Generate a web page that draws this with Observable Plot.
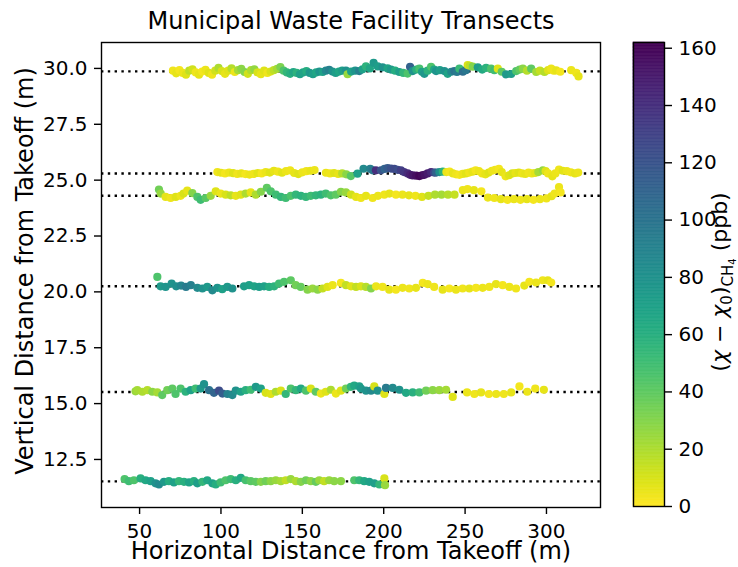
<!DOCTYPE html>
<html>
<head>
<meta charset="utf-8">
<script src="https://cdn.jsdelivr.net/npm/d3@7"></script>
<script src="https://cdn.jsdelivr.net/npm/@observablehq/plot@0.6"></script>
<style>
  html, body { margin: 0; padding: 0; background: white; }
  #chart { display: flex; flex-direction: row; width: 738px; height: 567px; }
  #chart svg { display: block; flex: none; }
</style>
</head>
<body>
<div id="chart"></div>
<script>
// Transect samples: [horizontal distance (m), vertical distance (m), CH4 enhancement (ppb)]
const t30 = [
  [70.5,29.9,4],[72.5,29.78,6],[74.5,29.92,3],[76.5,29.8,5],[78.5,29.72,8],[80.5,29.9,16],[82.5,29.96,12],
  [84.5,29.82,4],[86.5,29.72,6],[88.5,29.86,3],[90.5,29.94,5],[92.5,29.8,8],[94.5,29.72,4],[96.5,29.9,12],
  [98.5,30.02,20],[100.5,29.88,10],[102.5,29.76,6],[104.5,29.9,8],[106.5,30.0,18],[108.5,29.84,5],
  [110.5,29.92,22],[112.5,29.98,28],[114.5,29.84,30],[116.5,29.76,12],[118.5,29.92,20],[120.5,29.96,26],
  [122.5,29.82,10],[124.5,29.74,6],[126.5,29.9,8],[128.5,29.8,4],[130.5,29.86,10],[132.5,29.92,16],
  [134.5,29.98,22],[136.5,30.06,32],[138.5,29.9,45],[140.5,29.82,55],[142.5,29.76,60],[144.5,29.84,66],
  [146.5,29.8,58],[148.5,29.74,70],[150.5,29.82,68],[152.5,29.88,62],[154.5,29.8,76],[156.5,29.74,72],
  [158.5,29.82,66],[160.5,29.86,78],[162.5,29.84,70],[164.5,29.9,86],[166.5,29.94,92],[168.5,29.86,80],
  [170.5,29.8,72],[172.5,29.86,66],[174.5,29.9,72],[176.8,29.9,80],[177.8,29.74,25],[180,29.86,70],
  [182.5,29.9,78],[185,29.88,92],[187,29.96,70],[189.1,30.09,58],[191.5,30.0,66],[193.8,30.25,75],
  [196.3,30.09,72],[199.3,30.05,80],[202.4,30.0,68],[204.5,29.95,75],[207,29.9,62],[209.6,29.84,72],
  [212,29.8,55],[214.7,29.77,45],[216.2,30.07,112],[217.8,29.88,80],[220,29.95,60],[221.9,29.99,48],
  [223.5,29.85,70],[225,29.76,76],[227,29.9,58],[229.1,30.07,45],[231,29.95,66],[232.2,29.88,78],
  [234.5,29.92,72],[237.3,29.88,80],[239.3,29.76,68],[241.5,29.85,85],[243.4,29.88,100],[245,29.84,96],
  [246.5,29.99,52],[248.6,29.85,104],[250.5,29.92,98],[251.6,30.15,10],[253,30.12,16],[254.7,30.08,30],
  [257.8,30.05,72],[260.5,29.95,64],[262.9,30.02,58],[266,29.99,45],[268,29.92,50],[270.1,29.99,8],
  [272.5,29.85,40],[275.2,29.73,75],[278.3,29.75,72],[281.4,29.88,45],[283.5,29.95,38],[285.5,29.99,28],
  [288,29.9,18],[290.6,29.99,40],[293.7,29.84,22],[296,29.9,14],[298.8,29.84,18],[301,29.92,8],
  [302.9,29.99,5],[304.5,29.9,4],[306,29.91,6],[308.5,29.85,3],[315.2,29.92,5],[318.3,29.8,4],[319.7,29.64,6]
];

const t25 = [
  [97.8,25.36,4],[100,25.33,6],[102.5,25.3,3],[105,25.34,5],[107.5,25.31,8],[110,25.28,4],[112.5,25.3,6],
  [115,25.27,3],[117.5,25.25,5],[120,25.28,4],[122.5,25.32,7],[125,25.3,3],[127.5,25.36,5],[130,25.34,8],
  [132.5,25.42,6],[135,25.38,4],[137.5,25.33,7],[140,25.4,5],[142.5,25.44,4],[145,25.32,6],[147.5,25.27,8],
  [150,25.35,5],[152.5,25.4,4],[155,25.42,6],[157.5,25.45,5],
  [164.5,25.33,5],[167,25.3,4],[169.5,25.32,8],[172,25.28,6],[174.5,25.3,18],[177,25.26,28],[179.8,25.18,42],
  [183.9,25.29,70],[187.6,25.51,85],[191.7,25.51,92],[193.2,25.44,98],[195.2,25.44,140],[198.3,25.44,120],
  [200.5,25.5,110],[202.4,25.54,116],[204.5,25.52,122],[206.5,25.5,126],[208.5,25.46,124],[210.6,25.44,132],
  [212.5,25.36,136],[214.7,25.3,142],[216.2,25.24,148],[217.8,25.21,152],[220,25.2,156],[221.9,25.18,160],
  [223.5,25.22,158],[225,25.24,154],[227,25.3,150],[229.1,25.36,144],[231,25.34,126],[232.2,25.34,112],
  [234.2,25.36,82],[236.3,25.38,58],
  [238.5,25.36,5],[240.5,25.38,3],[242.5,25.3,6],[244.5,25.26,4],[246.5,25.24,3],[248.5,25.28,5],
  [250.5,25.3,7],[252.5,25.34,4],[254.5,25.38,6],[256.5,25.44,3],[258.5,25.4,5],[260.5,25.3,4],
  [262.5,25.26,6],[264.5,25.34,8],[266.5,25.42,5],[268.5,25.46,4],[270.8,25.51,3],[272.5,25.36,6],
  [274.9,25.17,5],[277,25.22,8],[279,25.3,10],[281,25.32,6],[283,25.34,8],[285,25.3,5],[287,25.28,6],
  [289,25.34,4],[291,25.3,5],[293,25.32,7],[295,25.36,22],[297.8,25.44,26],[299.5,25.4,8],[301,25.3,4],
  [303.6,25.17,6],[305.5,25.3,5],[307.7,25.47,4],[310,25.42,7],[312.5,25.4,5],[315,25.35,4],
  [317.5,25.3,6],[319.5,25.34,5]
];

const t24 = [
  [61.9,24.58,35],[63,24.4,25],[66,24.25,6],[69.1,24.2,4],[72.2,24.25,8],[75.2,24.3,5],[77,24.4,10],
  [79.3,24.53,6],[82.4,24.42,30],[85.5,24.25,45],[87.5,24.12,50],[90.6,24.2,42],[93.7,24.3,25],[96.8,24.5,8],
  [99.8,24.4,5],[102.9,24.35,10],[106,24.32,16],[109.1,24.3,6],[112.2,24.35,8],[115.2,24.4,20],[118.3,24.45,6],
  [121.4,24.35,20],[124.5,24.48,30],[128.2,24.66,40],[130.6,24.5,45],[133.7,24.35,50],[136.8,24.25,55],
  [139.8,24.2,50],[142.9,24.3,45],[146,24.35,55],[149.1,24.3,58],[152.2,24.25,55],[155.2,24.3,50],
  [158.3,24.32,55],[161.4,24.35,58],[164.4,24.4,50],[167.5,24.32,45],[170.6,24.35,40],[173.7,24.48,30],
  [176.8,24.45,25],[179.9,24.35,12],[183,24.25,6],[186,24.2,4],[189.1,24.3,6],[193.2,24.2,4],
  [196.5,24.3,5],[200.4,24.35,4],[203.5,24.4,6],[207.5,24.35,3],[211.5,24.35,5],[215.5,24.32,6],
  [219.5,24.3,4],[223.5,24.25,8],[227.5,24.3,14],[231.5,24.35,20],[235.5,24.35,22],[239.5,24.35,18],
  [243.5,24.35,14],[248.6,24.55,5],[251.5,24.6,4],[255.4,24.55,6],[260,24.5,3],[264,24.22,5],[268,24.2,4],
  [272,24.15,6],[276,24.12,3],[280,24.15,5],[284,24.12,4],[288,24.15,6],[292,24.12,3],[296,24.15,5],
  [300,24.18,4],[303.1,24.28,6],[305,24.4,4],[307.7,24.69,5],[308.7,24.45,3]
];

const t20 = [
  [60.9,20.67,45],[62.9,20.25,75],[66,20.22,78],[69.7,20.37,80],[72.5,20.25,82],[75.5,20.28,88],
  [78.5,20.22,95],[81.5,20.3,92],[85.5,20.18,85],[88.6,20.15,80],[91.6,20.22,75],[94.7,20.07,85],
  [97.8,20.18,78],[100.8,20.12,70],[103.9,20.22,75],[107,20.15,80],
  [114.2,20.25,72],[117.3,20.3,70],[120.4,20.25,68],[123.5,20.22,72],[126.5,20.25,70],[129.6,20.22,62],
  [132.7,20.25,58],[135.7,20.37,50],[138.8,20.45,45],[142.9,20.52,40],[145.9,20.3,35],[149,20.22,38],
  [153.2,20.1,30],[156.3,20.15,25],[159.4,20.1,28],[162.4,20.15,15],[165.5,20.22,8],[168.6,20.3,5],
  [173.7,20.4,3],[176.8,20.3,15],[179.9,20.25,8],[183,20.22,15],[186,20.25,10],[189.1,20.22,18],
  [192.2,20.15,30],[195.3,20.25,5],[199.3,20.22,4],[203.4,20.1,6],[207.5,20.1,3],[211.6,20.18,5],
  [215.7,20.15,4],[219.8,20.18,6],[224,20.4,3],[227,20.35,5],[231,20.22,4],[236.2,20.1,6],[240.3,20.15,3],
  [244.4,20.1,5],[248.5,20.15,4],[252.6,20.15,6],[256.7,20.18,3],[260.8,20.18,5],[264.9,20.22,4],
  [269,20.35,6],[273.1,20.3,3],[277.2,20.22,5],[281.3,20.15,4],[286.4,20.28,6],[289.5,20.45,3],
  [293.6,20.42,5],[297.7,20.52,4],[300.8,20.52,6],[302.9,20.42,3]
];

const t15 = [
  [47.5,15.55,25],[48.6,15.6,22],[51.7,15.53,20],[54.8,15.6,18],[57.8,15.53,28],[60.9,15.5,22],
  [63.9,15.38,40],[67,15.6,35],[70.1,15.67,40],[72.1,15.43,45],[75.2,15.67,45],[78.3,15.53,58],
  [81.4,15.6,70],[84.4,15.67,50],[87.5,15.67,75],[89.6,15.87,80],[92.7,15.6,100],[95.7,15.48,110],
  [98.8,15.58,125],[100.9,15.45,115],[104,15.43,90],[107,15.38,85],[109.1,15.58,80],[112.2,15.53,70],
  [115.2,15.6,60],[118.3,15.62,50],[121.4,15.75,75],[124.5,15.67,70],[127.5,15.48,10],[130.6,15.43,8],
  [133.7,15.53,20],[136.8,15.58,10],[139.8,15.43,55],[142.9,15.67,45],[146,15.6,55],[149.1,15.67,65],
  [152.2,15.58,45],[155.2,15.67,10],[158.3,15.53,40],[161.4,15.45,5],[164.4,15.53,8],[167.5,15.62,20],
  [170.6,15.45,5],[173.7,15.58,8],[176.8,15.67,35],[179.8,15.75,55],[181.9,15.8,65],[185,15.77,70],
  [186,15.67,75],[189.1,15.58,80],[192.2,15.58,85],[194.2,15.77,10],[196.3,15.58,80],[200.4,15.43,8],
  [201.4,15.7,95],[205.5,15.7,85],[209.6,15.62,80],[213.7,15.48,65],[217.8,15.5,60],[221.9,15.5,50],
  [226,15.58,35],[230.1,15.6,28],[234.2,15.6,25],[238.3,15.62,22],[242.4,15.3,8],[251.2,15.5,5],
  [255.7,15.43,4],[259.8,15.5,6],[264.6,15.43,3],[269.1,15.43,5],[273.8,15.43,4],[278.3,15.5,6],
  [283.4,15.77,3],[288.2,15.53,5],[293.1,15.67,4],[298.4,15.62,6]
];

const t11 = [
  [40.8,11.62,45],[43.4,11.53,50],[46.5,11.57,45],[50.6,11.65,60],[53.7,11.57,65],[56.8,11.53,70],
  [59.8,11.43,80],[61.9,11.38,85],[65,11.5,75],[68,11.53,62],[71.1,11.47,70],[74.2,11.53,55],
  [77.3,11.5,60],[80.4,11.47,68],[83.4,11.53,60],[85.5,11.43,72],[88.6,11.5,55],[91.6,11.57,65],
  [94.7,11.43,70],[96.8,11.38,62],[99.8,11.47,50],[102.9,11.57,45],[106,11.62,50],[109.1,11.57,60],
  [112.2,11.68,65],[115.2,11.57,48],[118.3,11.53,42],[121.4,11.5,40],[124.5,11.5,30],[127.5,11.53,35],
  [130.6,11.53,28],[133.7,11.57,25],[136.8,11.53,22],[139.8,11.57,15],[142.9,11.62,25],[146,11.53,20],
  [149.1,11.5,30],[152.2,11.57,35],[155.2,11.53,28],[158.3,11.5,38],[160.4,11.57,25],[163.4,11.53,15],
  [166.5,11.57,25],[169.6,11.53,28],[173.7,11.53,28],[181.9,11.57,45],[185,11.57,55],[188,11.53,65],
  [191.1,11.5,70],[194.2,11.43,72],[197.3,11.38,55],[200.4,11.65,10],[200.8,11.35,25]
];

// Nominal flight altitude of each transect
const transectHeights = [29.87, 25.3, 24.3, 20.25, 15.52, 11.52];

// Axis ticks
const xTicks = [50, 100, 150, 200, 250, 300];
const yTicks = [12.5, 15, 17.5, 20, 22.5, 25, 27.5, 30];
const cTicks = [0, 20, 40, 60, 80, 100, 120, 140, 160];

const samples = [t30, t25, t24, t20, t15, t11].flat();

const colorScale = {type: "linear", scheme: "viridis", reverse: true, domain: [0, 162]};
const font = "DejaVu Sans, Liberation Sans, sans-serif";

const main = Plot.plot({
  width: 610,
  height: 567,
  marginLeft: 101,
  marginRight: 10,
  marginTop: 42,
  marginBottom: 60,
  style: {fontSize: "20px", fontFamily: font, color: "black", background: "white"},
  x: {domain: [26.6, 333.2]},
  y: {domain: [10.35, 31.16]},
  color: colorScale,
  marks: [
    Plot.ruleY(transectHeights, {stroke: "black", strokeWidth: 2.4, strokeDasharray: "2.4,4.4"}),
    Plot.dot(samples, {x: d => d[0], y: d => d[1], fill: d => d[2], r: 4.1, stroke: null}),
    Plot.frame({stroke: "black", strokeWidth: 1.4}),
    Plot.axisX({ticks: xTicks, tickSize: 7, tickPadding: 9, strokeWidth: 1.4, label: null}),
    Plot.axisY({ticks: yTicks, tickSize: 7, tickPadding: 7, strokeWidth: 1.4, tickFormat: d3.format(".1f"), label: null}),
    Plot.text(["Horizontal Distance from Takeoff (m)"], {frameAnchor: "bottom", lineAnchor: "middle", textAnchor: "middle", dy: 44, fontSize: 24, fill: "black"}),
    Plot.text(["Vertical Distance from Takeoff (m)"], {frameAnchor: "left", lineAnchor: "middle", textAnchor: "middle", dx: -76, dy: -4, rotate: -90, fontSize: 24, fill: "black"}),
    Plot.text(["Municipal Waste Facility Transects"], {frameAnchor: "top", lineAnchor: "middle", textAnchor: "middle", dy: -21, fontSize: 24, fill: "black"})
  ]
});

// Colour bar: a vertical ramp through the same colour scale
const step = 0.5;
const ramp = d3.range(0, 162, step);
const bar = Plot.plot({
  width: 128,
  height: 567,
  marginLeft: 23,
  marginRight: 74,
  marginTop: 42,
  marginBottom: 61,
  style: {fontSize: "20px", fontFamily: font, color: "black", background: "white"},
  x: {domain: [0, 1], axis: null},
  y: {domain: [0, 162]},
  color: colorScale,
  marks: [
    Plot.rect(ramp, {x1: 0, x2: 1, y1: d => d, y2: d => d + step, fill: d => d + step / 2, stroke: d => d + step / 2, strokeWidth: 0.6}),
    Plot.frame({stroke: "black", strokeWidth: 1.4}),
    Plot.axisY({anchor: "right", ticks: cTicks, tickSize: 7, tickPadding: 7, strokeWidth: 1.4, label: null})
  ]
});

// Colour bar title with sub- and nested subscripts
const lab = d3.select(bar).append("text")
  .attr("transform", "translate(117,282) rotate(-90)")
  .attr("text-anchor", "middle")
  .attr("font-family", font)
  .attr("font-size", 22)
  .attr("fill", "black");
lab.append("tspan").text("(");
lab.append("tspan").attr("font-style", "italic").text("χ");
lab.append("tspan").text(" − ");
lab.append("tspan").attr("font-style", "italic").text("χ");
lab.append("tspan").attr("font-size", 15).attr("dy", 5).text("0");
lab.append("tspan").attr("dy", -5).text(")");
lab.append("tspan").attr("font-size", 15).attr("dy", 6).text("CH");
lab.append("tspan").attr("font-size", 10).attr("dy", 3).text("4");
lab.append("tspan").attr("dy", -9).text(" (ppb)");

document.getElementById("chart").append(main, bar);
</script>
</body>
</html>
